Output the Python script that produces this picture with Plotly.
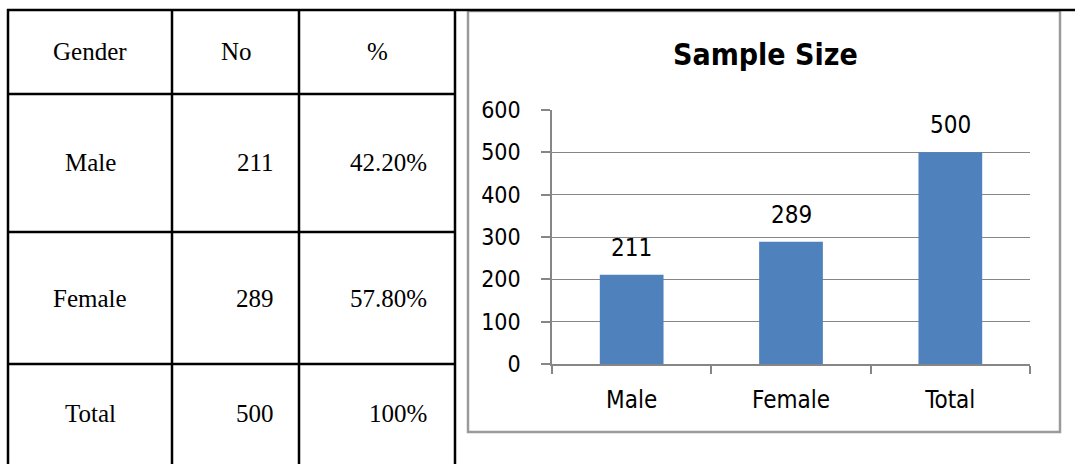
import plotly.graph_objects as go

# Table contents
header = ["Gender", "No", "%"]
genders = ["Male", "Female", "Total"]
counts = [211, 289, 500]
percents = ["42.20%", "57.80%", "100%"]

# Bar chart contents
categories = ["Male", "Female", "Total"]
sample_sizes = [211, 289, 500]
y_ticks = [0, 100, 200, 300, 400, 500, 600]

W, H = 1075, 464


def px(x):
    return x / W


def py(y):
    return 1 - y / H


fig = go.Figure()

fig.add_trace(go.Bar(
    x=categories,
    y=sample_sizes,
    marker=dict(color="#4F81BD", line=dict(width=0)),
    hoverinfo="x+y",
))

sans = "Liberation Sans Narrow, DejaVu Sans Condensed, sans-serif"
bar_font = dict(family=sans, size=24, color="#000000")
grey = "#868686"

# Value labels above bars
annotations = []
for c, v in zip(categories, sample_sizes):
    annotations.append(dict(x=c, y=v, xref="x", yref="y", text=str(v),
                            showarrow=False, yanchor="middle", yshift=27,
                            font=bar_font))

# Chart title
annotations.append(dict(x=px(765), y=py(55), xref="paper", yref="paper",
                        text="<b>Sample Size</b>", showarrow=False,
                        xanchor="center", yanchor="middle",
                        font=dict(family=sans, size=30, color="#000000")))

# Table grid geometry
col_edges = [8, 172, 299, 455]
row_edges = [10, 94, 232, 364, 464]
row_centers = [51, 163, 298, 413]
table_font = dict(family="Liberation Serif, Times New Roman, serif", size=25, color="#000000")

shapes = []
# top rule across the full width
shapes.append(dict(type="line", xref="paper", yref="paper",
                   x0=px(7), x1=1, y0=py(10), y1=py(10),
                   line=dict(color="#000000", width=2.5)))
for x in col_edges:
    shapes.append(dict(type="line", xref="paper", yref="paper",
                       x0=px(x), x1=px(x), y0=py(9), y1=0,
                       line=dict(color="#000000", width=2.5)))
for y in row_edges[1:4]:
    shapes.append(dict(type="line", xref="paper", yref="paper",
                       x0=px(7), x1=px(456), y0=py(y), y1=py(y),
                       line=dict(color="#000000", width=2.5)))
# chart frame
shapes.append(dict(type="rect", xref="paper", yref="paper",
                   x0=px(468), x1=px(1060), y0=py(11), y1=py(432),
                   line=dict(color="#9a9a9a", width=2.5), fillcolor="rgba(0,0,0,0)",
                   layer="below"))

# header row
hdr_x = [90, 236, 377]
for t, x in zip(header, hdr_x):
    annotations.append(dict(x=px(x), y=py(row_centers[0]), xref="paper", yref="paper",
                            text=t, showarrow=False, xanchor="center", yanchor="middle",
                            font=table_font))
# body rows
for i in range(3):
    yc = py(row_centers[i + 1])
    annotations.append(dict(x=px(90), y=yc, xref="paper", yref="paper",
                            text=genders[i], showarrow=False, xanchor="center",
                            yanchor="middle", font=table_font))
    annotations.append(dict(x=px(276), y=yc, xref="paper", yref="paper",
                            text=str(counts[i]), showarrow=False, xanchor="right",
                            yanchor="middle", font=table_font))
    annotations.append(dict(x=px(429), y=yc, xref="paper", yref="paper",
                            text=percents[i], showarrow=False, xanchor="right",
                            yanchor="middle", font=table_font))

fig.update_layout(
    width=W, height=H,
    margin=dict(l=0, r=0, t=0, b=0, pad=0, autoexpand=False),
    paper_bgcolor="#ffffff",
    plot_bgcolor="#ffffff",
    showlegend=False,
    bargap=0.6,
    annotations=annotations,
    shapes=shapes,
    xaxis=dict(
        domain=[px(552), px(1030)],
        showline=True, linecolor=grey, linewidth=1.5,
        ticks="outside", tickson="boundaries", ticklen=8, tickcolor=grey, tickwidth=1.5,
        showgrid=False, tickfont=bar_font, ticklabelstandoff=13,
    ),
    yaxis=dict(
        domain=[1 - 364 / H, 1 - 110 / H],
        range=[0, 600], tickvals=y_ticks,
        showline=True, linecolor=grey, linewidth=1.5,
        ticks="outside", ticklen=9, tickcolor=grey, tickwidth=1.5,
        showgrid=True, gridcolor=grey, gridwidth=1.3, zeroline=False,
        tickfont=dict(family=sans, size=23, color="#000000"), ticklabelstandoff=16,
    ),
)

fig.write_html("out.html")
